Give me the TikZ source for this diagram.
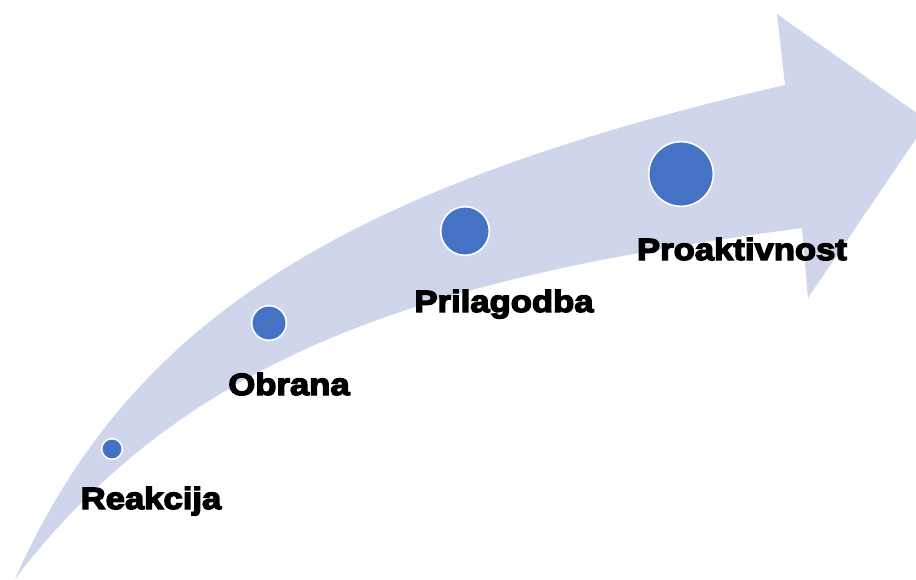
\documentclass[tikz,border=0pt]{standalone}
\usepackage{fontspec}
\newfontfamily\lblfont{Liberation Sans Bold}[FakeBold=4.5,FakeStretch=1.13]
\definecolor{arrowfill}{HTML}{CFD5EA}
\definecolor{dotblue}{HTML}{4472C4}
\begin{document}
\begin{tikzpicture}[x=0.75pt,y=-0.75pt,
  dot/.style={circle,fill=dotblue,draw=white,line width=1.2pt,inner sep=0pt},
  lbl/.style={anchor=base,inner sep=0pt,font=\lblfont\fontsize{23}{25}\selectfont,text=black}]
\useasboundingbox (0,0) rectangle (916,579);
\begin{scope}
\clip (0,0) rectangle (916,579);
\fill[arrowfill] (15,579) .. controls (127.5,327) and (331,189.5) .. (785,85)
  -- (777,14) -- (928,121) -- (808,298) -- (802,228)
  .. controls (438,276) and (191,348.6) .. (15,579) -- cycle;
\end{scope}
\node[dot,minimum size=15.5pt] (c1) at (112,449) {};
\node[dot,minimum size=26pt] (c2) at (269,323) {};
\node[dot,minimum size=36.5pt] (c3) at (465,231) {};
\node[dot,minimum size=48.5pt] (c4) at (681,174) {};
\node[lbl] (t1) at (151,509) {Reakcija};
\node[lbl] (t2) at (289,395) {Obrana};
\node[lbl] (t3) at (504,312) {Prilagodba};
\node[lbl] (t4) at (742,260) {Proaktivnost};
\end{tikzpicture}
\end{document}
